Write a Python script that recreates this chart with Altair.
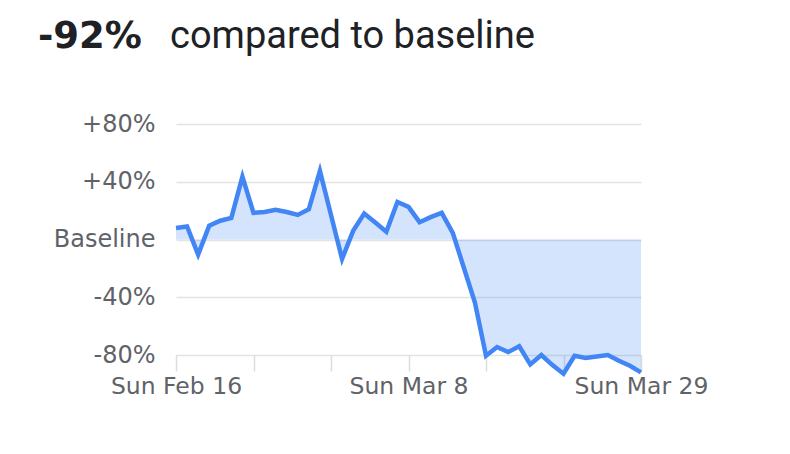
import altair as alt
import pandas as pd

# ---- data ----
days = list(range(43))  # Sun Feb 16 (0) .. Sun Mar 29 (42)
values = [8, 9, -10.5, 9.5, 13, 15, 43.5, 18.5, 19, 20.5,
          19, 17, 21, 47.5, 17, -13.5, 6, 18, 11.7, 5.3,
          26, 22.6, 12, 15.5, 18.5, 4.6, -19.6, -43.7, -80.5, -74.5,
          -78, -74, -86.5, -80, -87, -93, -80.5, -82, -81, -80,
          -84, -87.5, -92]
x_tick_days = [0, 7, 14, 21, 28, 35, 42]
x_label_days = [0, 21, 42]
x_labels = ["Sun Feb 16", "Sun Mar 8", "Sun Mar 29"]
y_ticks = [-80, -40, 0, 40, 80]
y_labels = ["-80%", "-40%", "Baseline", "+40%", "+80%"]
headline_value = "-92%"
headline_text = "compared to baseline"

df = pd.DataFrame({"day": days, "value": values, "base": [0] * len(days)})

x_expr = " : ".join(
    [f"datum.value == {d} ? '{l}'" for d, l in zip(x_label_days, x_labels)]
) + " : ''"
y_expr = " : ".join(
    [f"datum.value == {v} ? '{l}'" for v, l in zip(y_ticks, y_labels)]
) + " : ''"

x_enc = alt.X(
    "day:Q",
    scale=alt.Scale(domain=[0, 42], nice=False, zero=False),
    axis=alt.Axis(
        values=x_tick_days, labelExpr=x_expr, title=None, grid=False,
        domain=False, tickColor="#dadce0", tickSize=16, tickWidth=1.5,
        labelFont="DejaVu Sans", labelFontSize=23.5, labelColor="#5f6368",
        labelPadding=3, labelFlush=False, labelOverlap=False,
    ),
)
y_enc = alt.Y(
    "value:Q",
    scale=alt.Scale(domain=[-80, 80], nice=False),
    axis=alt.Axis(
        values=y_ticks, labelExpr=y_expr, title=None, grid=True,
        gridColor="#e3e3e3", gridWidth=1.5, domain=False, ticks=False,
        labelFont="DejaVu Sans", labelFontSize=24, labelColor="#5f6368",
        labelPadding=21,
    ),
)

base = alt.Chart(df)
area = base.mark_area(color="#4285f4", fillOpacity=0.22).encode(
    x=x_enc, y=y_enc, y2="base:Q"
)
line = base.mark_line(color="#4285f4", strokeWidth=4.5).encode(x="day:Q", y="value:Q")

t1 = alt.Chart(pd.DataFrame({"t": [headline_value]})).mark_text(
    font="DejaVu Sans", fontSize=37, fontWeight="bold", color="#202124",
    align="left", baseline="alphabetic"
).encode(x=alt.value(-138), y=alt.value(-76), text="t:N")
t2 = alt.Chart(pd.DataFrame({"t": [headline_text]})).mark_text(
    font="Roboto", fontSize=38, color="#202124",
    align="left", baseline="alphabetic"
).encode(x=alt.value(-6), y=alt.value(-76), text="t:N")

chart = alt.layer(area, line, t1, t2).properties(
    width=465, height=231,
    padding={"left": 168, "top": 116, "right": 120, "bottom": 70},
    autosize=alt.AutoSizeParams(type="none"),
).configure_view(stroke=None)

chart.save("out.html", embed_options={"renderer": "svg", "actions": False})
